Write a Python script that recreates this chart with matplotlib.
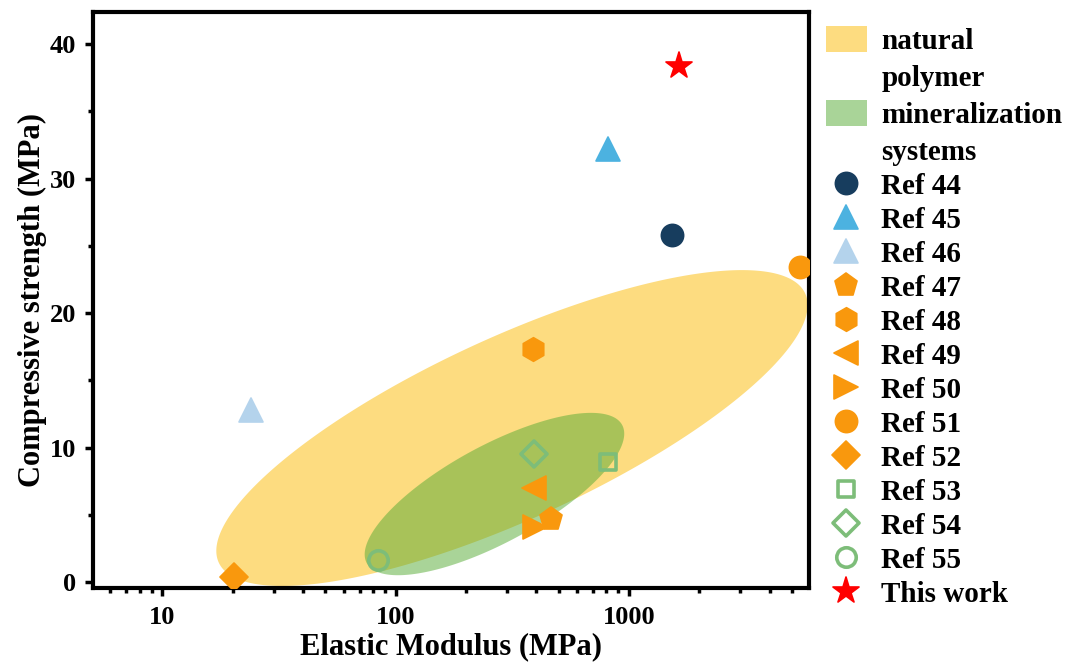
import numpy as np
import matplotlib
matplotlib.use("Agg")
import matplotlib.pyplot as plt
from matplotlib.markers import MarkerStyle
from matplotlib.patches import Patch
from matplotlib.lines import Line2D
from matplotlib.ticker import LogLocator, NullFormatter

# ---------------- data ----------------
labels = ['Ref 44', 'Ref 45', 'Ref 46', 'Ref 47', 'Ref 48', 'Ref 49', 'Ref 50',
          'Ref 51', 'Ref 52', 'Ref 53', 'Ref 54', 'Ref 55', 'This work']
modulus = [1520, 810, 24, 465, 387, 390, 395, 5400, 20.2, 815, 393, 84, 1640]
strength = [25.8, 32.2, 12.8, 4.7, 17.3, 7.0, 4.1, 23.4, 0.4, 8.95, 9.5, 1.6, 38.4]
markers = ['o', '^', '^', 'p', 'h', '<', '>', 'o', 'D', 's', 'D', 'o', '*']
colors = ['#173D5E', '#4CB2E0', '#B4D3EC', '#F9980D', '#F9980D', '#F9980D', '#F9980D',
          '#F9980D', '#F9980D', '#7DBD79', '#7DBD79', '#7DBD79', '#FF0000']
filled = [True, True, True, True, True, True, True, True, True, False, False, False, True]
sizes = [16, 17, 17, 17, 17, 17, 17, 16, 14.5, 11.5, 13, 14, 19.5]

# regions: (center modulus, center strength, semi-major, semi-minor [MPa-equivalent], angle deg)
region_labels = ['natural', 'polymer', 'mineralization', 'systems']
region_center_E = [315, 265]
region_center_S = [11.45, 6.54]
region_a = [24.0, 10.8]
region_b = [6.77, 3.61]
region_angle = [24.65, 28.4]
region_colors = ['#FDDC80', '#55AA33']
region_alpha = [1.0, 0.5]

xlim = (5.05, 5900)
ylim = (-0.45, 42.4)
xticks = [10, 100, 1000]
xticklabels = ['10', '100', '1000']
yticks = [0, 10, 20, 30, 40]
yticklabels = ['0', '10', '20', '30', '40']
yminor = [5, 15, 25, 35]

font = 'Liberation Serif'
plt.rcParams['font.family'] = [font, 'DejaVu Serif']
plt.rcParams['font.weight'] = 'bold'

# ---------------- figure ----------------
FW, FH, DPI = 1091, 669, 100
fig = plt.figure(figsize=(FW / DPI, FH / DPI), dpi=DPI)
left, right, bottom, top = 93 / FW, 809 / FW, 1 - 588 / FH, 1 - 12 / FH
ax = fig.add_axes([left, bottom, right - left, top - bottom])
ax.set_xscale('log')
ax.set_xlim(*xlim)
ax.set_ylim(*ylim)

# isotropy factor: MPa-equivalent per decade
W = FW * (right - left)
H = FH * (top - bottom)
px_per_dec = W / np.log10(xlim[1] / xlim[0])
px_per_mpa = H / (ylim[1] - ylim[0])
k = px_per_dec / px_per_mpa

t = np.linspace(0, 2 * np.pi, 400)
for i in range(len(region_colors)):
    th = np.deg2rad(region_angle[i])
    dx = region_a[i] * np.cos(t) * np.cos(th) - region_b[i] * np.sin(t) * np.sin(th)
    dy = region_a[i] * np.cos(t) * np.sin(th) + region_b[i] * np.sin(t) * np.cos(th)
    u = np.log10(region_center_E[i]) + dx / k
    yy = region_center_S[i] + dy
    ax.fill(10 ** u, yy, color=region_colors[i], alpha=region_alpha[i], lw=0, zorder=1 + i)

region_handles = [Patch(facecolor=region_colors[0], alpha=region_alpha[0], lw=0),
                  Line2D([], [], ls='none'),
                  Patch(facecolor=region_colors[1], alpha=region_alpha[1], lw=0),
                  Line2D([], [], ls='none')]

ref_handles = []
for i in range(len(labels)):
    ms = MarkerStyle(markers[i], joinstyle='round')
    if filled[i]:
        kw = dict(mfc=colors[i], mec=colors[i], mew=1.2)
    else:
        kw = dict(mfc='none', mec=colors[i], mew=2.6)
    ax.plot([modulus[i]], [strength[i]], ls='none', marker=ms, ms=sizes[i], zorder=5 + i, **kw)
    ref_handles.append(Line2D([], [], ls='none', marker=ms, ms=sizes[i], **kw))

# axes styling
for sp in ax.spines.values():
    sp.set_linewidth(3)
ax.tick_params(which='major', direction='out', length=6, width=2.5)
ax.tick_params(which='minor', direction='out', length=3.5, width=2.5)
ax.tick_params(axis='x', which='major', pad=7)
ax.tick_params(axis='y', which='major', pad=6)
ax.set_xticks(xticks, xticklabels, fontsize=19, fontweight='bold')
ax.xaxis.set_minor_locator(LogLocator(base=10, subs=np.arange(2, 10)))
ax.xaxis.set_minor_formatter(NullFormatter())
ax.set_yticks(yticks, yticklabels, fontsize=19, fontweight='bold')
ax.set_yticks(yminor, minor=True)

ax.set_xlabel('Elastic Modulus (MPa)', fontsize=22, fontweight='bold', labelpad=2)
ax.set_ylabel('Compressive strength (MPa)', fontsize=22, fontweight='bold', labelpad=2)

prop = {'family': font, 'weight': 'bold', 'size': 21}
leg1 = fig.legend(region_handles, region_labels, loc='upper left',
                  bbox_to_anchor=(826 / FW, 1 - 26 / FH),
                  frameon=False, borderpad=0, borderaxespad=0, handlelength=1.4,
                  handleheight=1.0, handletextpad=0.5, labelspacing=0.27, prop=prop)
leg2 = fig.legend(ref_handles, labels, loc='upper left',
                  bbox_to_anchor=(826 / FW, 1 - 171 / FH),
                  frameon=False, borderpad=0, borderaxespad=0, handlelength=1.4,
                  handleheight=1.0, handletextpad=0.5, labelspacing=0.17, numpoints=1,
                  prop=prop)

fig.savefig('out.png', dpi=DPI)
